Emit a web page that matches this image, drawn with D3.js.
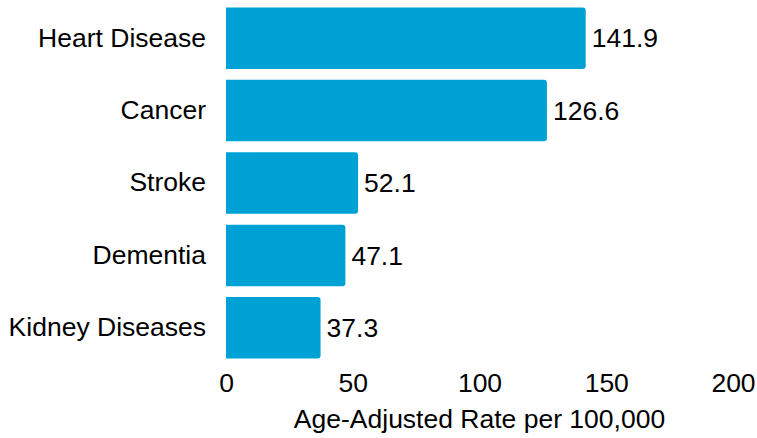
<!DOCTYPE html>
<html>
<head>
<meta charset="utf-8">
<script src="https://cdn.jsdelivr.net/npm/d3@7"></script>
<style>
  body { margin: 0; background: #fff; }
  text { font-family: "Liberation Sans", Arial, sans-serif; fill: #000; }
</style>
</head>
<body>
<svg id="chart" width="757" height="438"></svg>
<script>
const causes = ["Heart Disease", "Cancer", "Stroke", "Dementia", "Kidney Diseases"];
const rates = [141.9, 126.6, 52.1, 47.1, 37.3];
const xTicks = [0, 50, 100, 150, 200];
const xTitle = "Age-Adjusted Rate per 100,000";

const width = 757;
const height = 438;
const margin = {top: 2, right: 24, bottom: 74, left: 226};
const barColor = "#00a2d5";
const fontSize = "26.5px";

const svg = d3.select("#chart");

const x = d3.scaleLinear().domain([0, 200]).range([margin.left, width - margin.right]);
const y = d3.scaleBand()
    .domain(causes)
    .range([margin.top, height - margin.bottom])
    .paddingInner(0.15)
    .paddingOuter(0.075);

const data = causes.map((c, i) => ({cause: c, rate: rates[i]}));

// bar with square left edge and rounded right corners
const r = 3;
function barPath(d) {
  const x0 = x(0), x1 = x(d.rate), y0 = y(d.cause), y1 = y0 + y.bandwidth();
  return `M${x0},${y0}H${x1 - r}Q${x1},${y0} ${x1},${y0 + r}V${y1 - r}Q${x1},${y1} ${x1 - r},${y1}H${x0}Z`;
}

svg.append("g")
  .selectAll("path")
  .data(data)
  .enter()
  .append("path")
  .attr("fill", barColor)
  .attr("d", barPath);

// value labels
svg.append("g")
  .selectAll("text")
  .data(data)
  .enter()
  .append("text")
  .attr("x", d => x(d.rate) + 6)
  .attr("y", d => y(d.cause) + y.bandwidth() / 2)
  .attr("dy", "0.35em")
  .style("font-size", fontSize)
  .text(d => d.rate.toFixed(1));

// category axis
const yAxis = svg.append("g")
  .attr("transform", `translate(${margin.left}, 0)`)
  .call(d3.axisLeft(y).tickSize(0).tickPadding(20));
yAxis.select(".domain").remove();
yAxis.selectAll("text").style("font-size", fontSize).attr("fill", "#000");

// value axis
const xAxis = svg.append("g")
  .attr("transform", `translate(0, ${height - margin.bottom})`)
  .call(d3.axisBottom(x).tickValues(xTicks).tickSize(0).tickPadding(9));
xAxis.select(".domain").remove();
xAxis.selectAll("text").style("font-size", fontSize).attr("fill", "#000");

svg.append("text")
  .attr("x", (x(0) + x(200)) / 2)
  .attr("y", 428)
  .attr("text-anchor", "middle")
  .style("font-size", fontSize)
  .text(xTitle);
</script>
</body>
</html>
